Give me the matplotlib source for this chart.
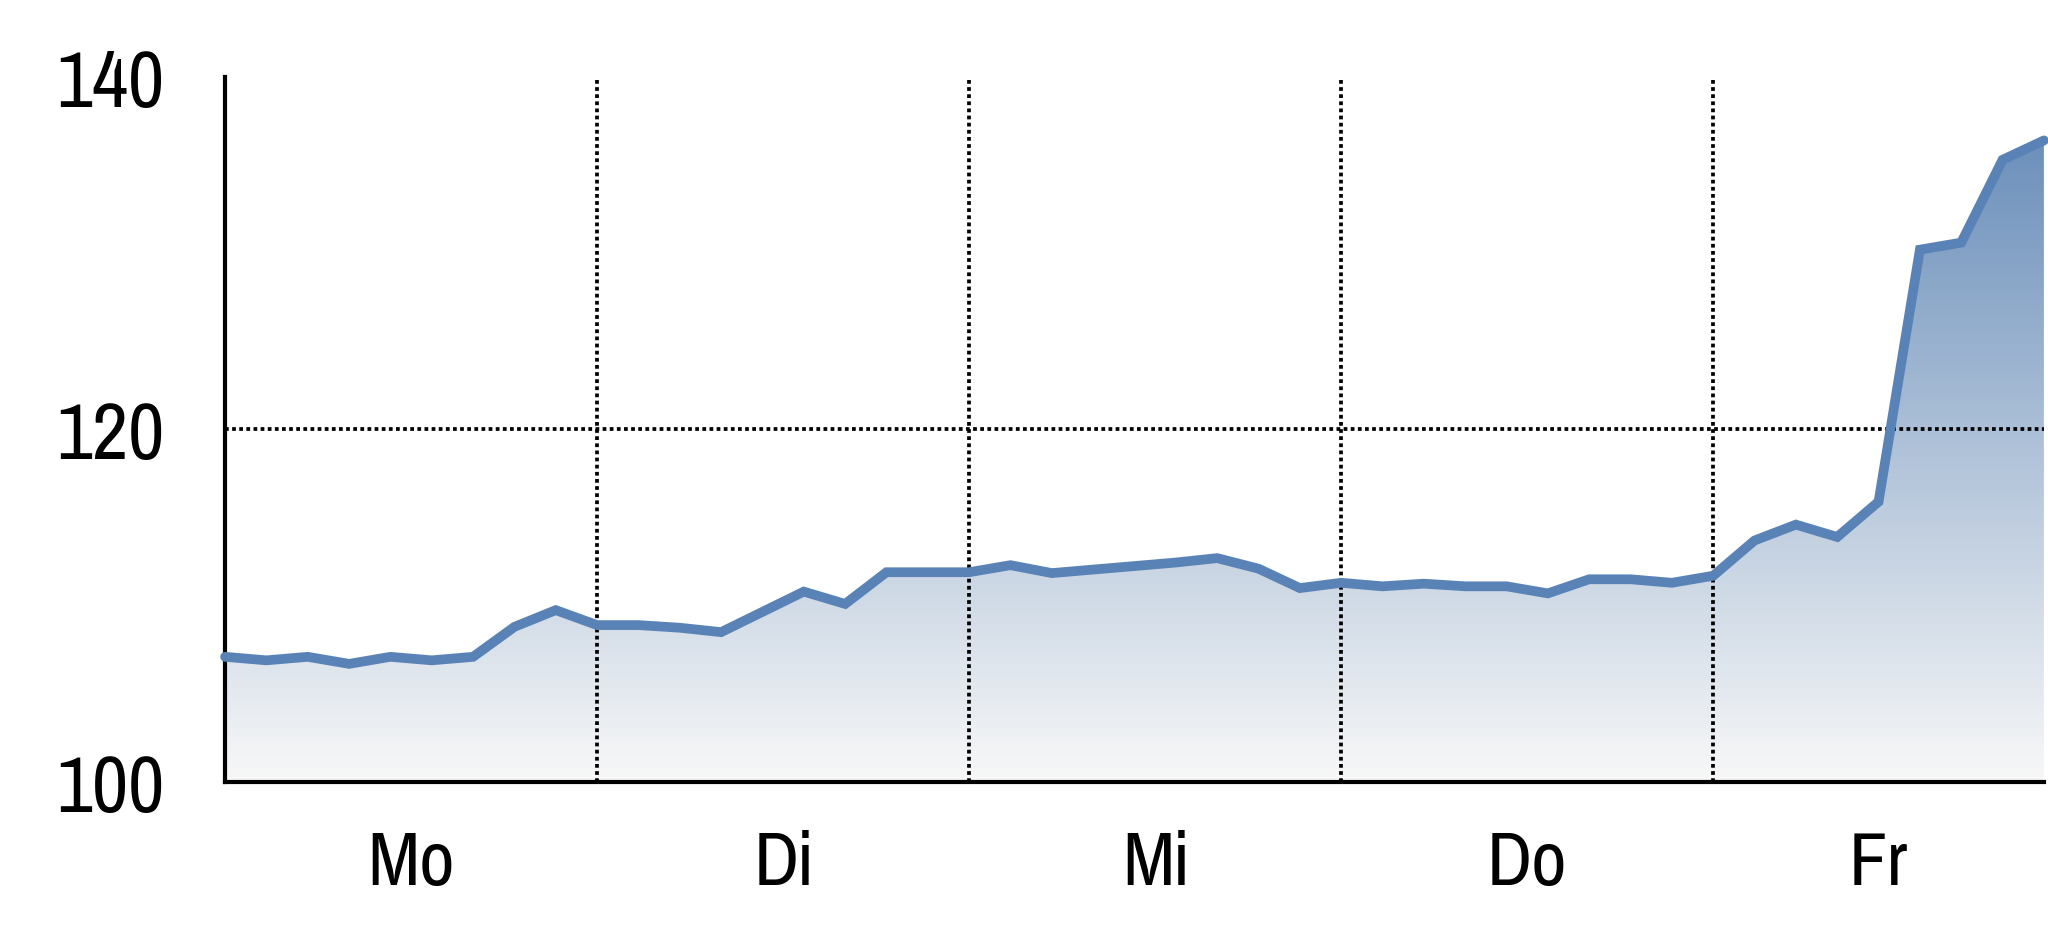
import numpy as np
import matplotlib
matplotlib.use('Agg')
import matplotlib.pyplot as plt
from matplotlib import font_manager
from matplotlib.colors import LinearSegmentedColormap

# 9 readings per day, Mo..Fr
values = [107.1, 106.9, 107.1, 106.7, 107.1, 106.9, 107.1, 108.8, 109.75,
          108.9, 108.9, 108.75, 108.5, 109.65, 110.8, 110.1, 111.9, 111.9,
          111.9, 112.3, 111.85, 112.05, 112.25, 112.45, 112.7, 112.1, 111.0,
          111.3, 111.1, 111.25, 111.1, 111.1, 110.7, 111.5, 111.5, 111.3,
          111.7, 113.7, 114.6, 113.9, 115.9, 130.2, 130.6, 135.3, 136.4]
days = ['Mo', 'Di', 'Mi', 'Do', 'Fr']
day_ticks = [4.5, 13.5, 22.5, 31.5, 40]
day_breaks = [9, 18, 27, 36]
yticks = [100, 120, 140]

# helvetica-narrow look-alike, whichever is installed first
names = {f.name for f in font_manager.fontManager.ttflist}
wanted = ['Nimbus Sans Narrow', 'Liberation Sans Narrow', 'Arial Narrow',
          'Pragati Narrow', 'Roboto Condensed', 'Archivo Narrow']
fam = [n for n in wanted if n in names][:1]
plt.rcParams['font.family'] = fam + ['Liberation Sans', 'DejaVu Sans']

fig = plt.figure(figsize=(20.48, 9.37), dpi=100)
ax = fig.add_axes([0.1099, 0.1644, 0.998 - 0.1099, 0.9168 - 0.1644])

x = np.arange(len(values))
y = np.array(values)

# gradient fill under the line
poly = ax.fill_between(x, 100, y, color='none', lw=0)
cmap = LinearSegmentedColormap.from_list('g', ['#f8f8f8', '#6c90bb'])
grad = np.linspace(0, 1, 256).reshape(-1, 1)
img = ax.imshow(grad, cmap=cmap, origin='lower', aspect='auto',
                extent=[0, len(values) - 1, 100, y.max()], zorder=1)
img.set_clip_path(poly.get_paths()[0], transform=ax.transData)

ax.plot(x, y, color='#5983b6', lw=7, solid_capstyle='round',
        solid_joinstyle='miter', zorder=3, clip_on=False)

dot = (0, (1, 0.9))
for b in day_breaks:
    ax.axvline(b, color='black', lw=2.7, ls=dot, zorder=2)
ax.axhline(120, color='black', lw=2.7, ls=dot, zorder=2)

ax.set_xlim(0, len(values) - 1)
ax.set_ylim(100, 140)
ax.set_yticks(yticks)
ax.set_yticklabels([str(t) for t in yticks], fontsize=62)
ax.set_xticks(day_ticks)
ax.set_xticklabels(days, fontsize=60)
ax.tick_params(axis='both', length=0)
ax.tick_params(axis='y', pad=44)
ax.tick_params(axis='x', pad=34)
for lab in ax.get_yticklabels():
    lab.set_verticalalignment('center_baseline')

for s in ['top', 'right']:
    ax.spines[s].set_visible(False)
for s in ['left', 'bottom']:
    ax.spines[s].set_linewidth(3)
    ax.spines[s].set_color('black')

fig.savefig('out.png', dpi=100)
